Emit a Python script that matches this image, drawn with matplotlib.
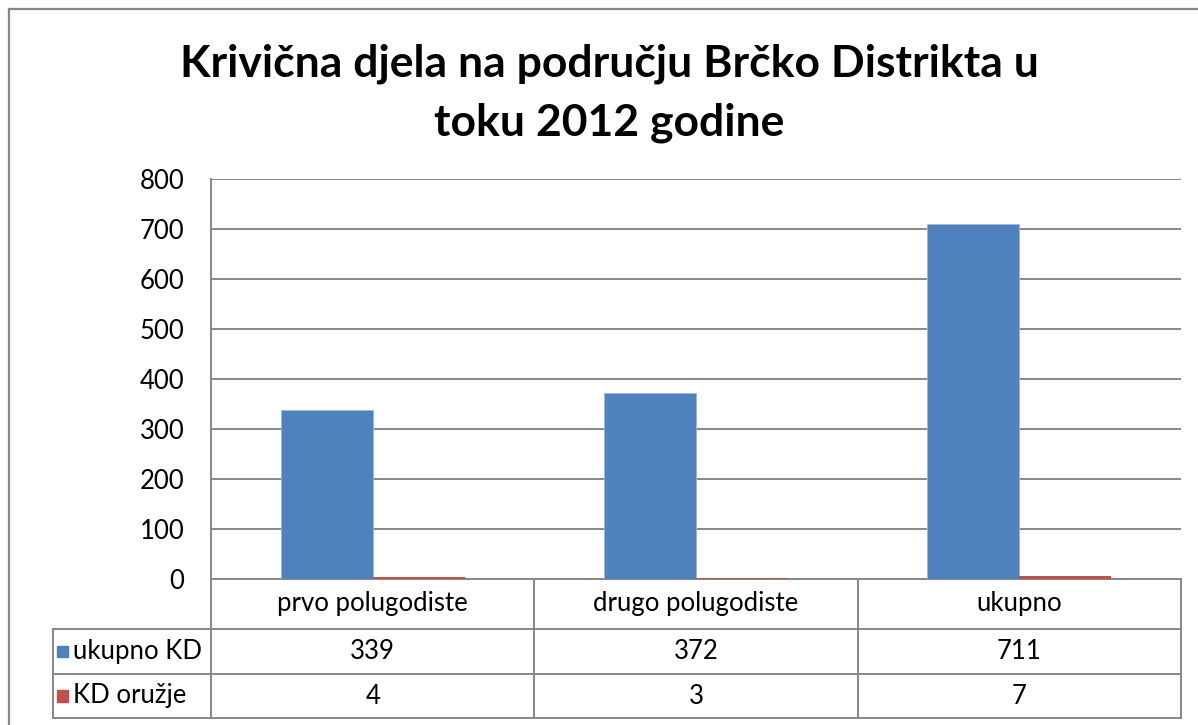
import matplotlib
matplotlib.use("Agg")
import matplotlib.pyplot as plt
from matplotlib.lines import Line2D
from matplotlib.patches import Rectangle
from matplotlib.transforms import blended_transform_factory
import numpy as np

plt.rcParams['font.family'] = ['Lato', 'DejaVu Sans']

# data
categories = ['prvo polugodiste', 'drugo polugodiste', 'ukupno']
series_names = ['ukupno KD', 'KD oružje']
ukupno_kd = [339, 372, 711]
kd_oruzje = [4, 3, 7]
yticks = [0, 100, 200, 300, 400, 500, 600, 700, 800]
title = 'Krivična djela na području Brčko Distrikta u\ntoku 2012 godine'

blue = '#4F81BD'
red = '#C0504D'
gray = '#878787'

W, H = 1198, 725
fig = plt.figure(figsize=(W / 100, H / 100), dpi=100)

# axes placed in pixel terms of the original picture
def px(x0, y0, x1, y1):
    return [x0 / W, 1 - y1 / H, (x1 - x0) / W, (y1 - y0) / H]

ax = fig.add_axes(px(211, 179, 1181, 579))

x = np.arange(len(categories))
bw = 0.285
ax.bar(x - bw / 2, ukupno_kd, bw, color=blue, edgecolor='#9BB7DD', linewidth=0.6, zorder=3)
ax.bar(x + bw / 2, kd_oruzje, bw, color=red, zorder=3)

ax.set_xlim(-0.5, len(categories) - 0.5)
ax.set_ylim(0, 800)
ax.set_yticks(yticks)
ax.set_yticklabels([str(v) for v in yticks], fontsize=18.5)
ax.set_xticks([])
ax.tick_params(axis='y', length=0, pad=19)
ax.yaxis.grid(True, color=gray, linewidth=1.4, zorder=0)
for s in ['top', 'right', 'bottom']:
    ax.spines[s].set_visible(False)
ax.spines['left'].set_color(gray)
ax.spines['left'].set_linewidth(1.4)

# data table under the axes
tr = blended_transform_factory(ax.transData, ax.transAxes)
row_y = [0.0, -0.125, -0.2375, -0.3475]
left_x = (53 - 211) / 970
lkw = dict(color=gray, linewidth=1.4, clip_on=False)
fs = 18.5

# horizontal lines
ax.add_line(Line2D([0, 1], [0, 0], transform=ax.transAxes, **lkw))
for yy in row_y[1:]:
    ax.add_line(Line2D([left_x, 1], [yy, yy], transform=ax.transAxes, **lkw))
# vertical lines
for i in range(len(categories) + 1):
    xx = i - 0.5
    ax.add_line(Line2D([xx, xx], [0, row_y[-1]], transform=tr, **lkw))
ax.add_line(Line2D([left_x, left_x], [row_y[1], row_y[-1]], transform=ax.transAxes, **lkw))

# header row
for i, c in enumerate(categories):
    ax.text(i, (row_y[0] + row_y[1]) / 2, c, transform=tr, ha='center', va='center', fontsize=fs)

# value rows
for r, (name, vals, col) in enumerate(zip(series_names, [ukupno_kd, kd_oruzje], [blue, red])):
    yc = (row_y[r + 1] + row_y[r + 2]) / 2
    ax.add_patch(Rectangle(((57 - 211) / 970, yc - 0.014), 11 / 970, 0.028,
                           transform=ax.transAxes, color=col, clip_on=False))
    ax.text((73 - 211) / 970, yc, name, transform=ax.transAxes, ha='left', va='center', fontsize=fs)
    for i, v in enumerate(vals):
        ax.text(i, yc, str(v), transform=tr, ha='center', va='center', fontsize=fs)

# title
fig.text(609 / W, 1 - 93 / H, title, ha='center', va='center', fontsize=32,
         fontweight='bold', linespacing=1.55)

# chart frame
fig.add_artist(Line2D([9 / W, 9 / W], [0, 1 - 9 / H], color=gray, linewidth=1.6))
fig.add_artist(Line2D([9 / W, 1], [1 - 9 / H, 1 - 9 / H], color=gray, linewidth=1.6))

fig.savefig('out.png', dpi=100)
